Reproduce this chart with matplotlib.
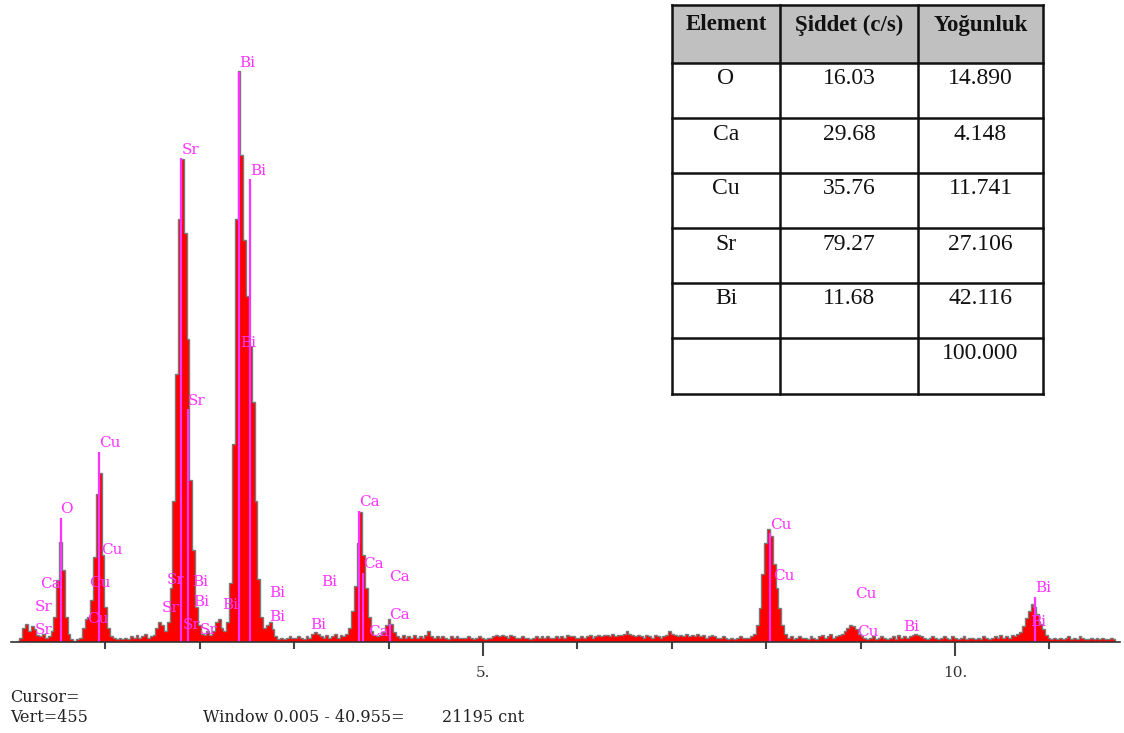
import numpy as np
import matplotlib.pyplot as plt
from matplotlib.patches import Rectangle

# EDS spectrum: counts per 0.03 keV channel, starting at 0 keV
channel_width = 0.03
counts = [
    0, 0, 1, 3, 10, 13, 8, 11, 9, 5,
    4, 6, 3, 4, 8, 18, 44, 71, 51, 18,
    6, 2, 1, 2, 3, 10, 16, 18, 30, 60,
    105, 120, 62, 25, 10, 4, 3, 2, 3, 2,
    3, 2, 4, 3, 5, 3, 4, 6, 3, 4,
    5, 10, 14, 12, 8, 14, 38, 100, 190, 300,
    342, 290, 215, 115, 65, 25, 12, 6, 5, 8,
    5, 8, 14, 16, 10, 8, 14, 42, 140, 300,
    405, 345, 285, 245, 210, 170, 100, 45, 18, 10,
    12, 14, 9, 4, 2, 3, 2, 3, 4, 3,
    3, 4, 3, 2, 4, 3, 6, 7, 6, 4,
    3, 5, 3, 4, 6, 3, 5, 4, 6, 10,
    22, 40, 70, 92, 62, 38, 18, 8, 5, 4,
    5, 7, 12, 16, 13, 7, 4, 3, 5, 3,
    4, 3, 5, 3, 4, 3, 5, 8, 4, 3,
    4, 3, 4, 3, 2, 4, 3, 4, 3, 3,
    3, 4, 3, 2, 3, 4, 3, 2, 3, 3,
    4, 5, 4, 5, 4, 3, 5, 4, 3, 3,
    4, 3, 3, 2, 3, 4, 3, 4, 3, 4,
    3, 3, 4, 3, 4, 3, 5, 4, 4, 3,
    3, 4, 3, 4, 5, 3, 4, 5, 4, 5,
    5, 4, 6, 4, 5, 5, 6, 8, 6, 5,
    4, 5, 4, 3, 5, 4, 3, 5, 4, 3,
    4, 5, 8, 6, 5, 4, 5, 4, 6, 4,
    5, 4, 6, 4, 5, 3, 4, 5, 4, 3,
    3, 4, 3, 2, 3, 2, 3, 4, 3, 3,
    3, 4, 6, 12, 24, 48, 70, 80, 75, 55,
    38, 24, 12, 6, 3, 4, 2, 3, 4, 3,
    3, 2, 4, 3, 2, 4, 5, 3, 4, 6,
    3, 4, 5, 6, 8, 10, 12, 11, 9, 6,
    4, 3, 2, 3, 4, 2, 3, 4, 3, 2,
    3, 4, 2, 5, 3, 4, 3, 4, 5, 6,
    5, 4, 3, 2, 3, 4, 3, 2, 3, 4,
    3, 2, 4, 3, 2, 3, 4, 2, 3, 3,
    2, 3, 2, 4, 3, 2, 3, 4, 3, 5,
    3, 4, 3, 5, 4, 6, 7, 11, 17, 22,
    27, 25, 20, 13, 9, 5, 3, 2, 3, 2,
    3, 2, 3, 4, 2, 3, 2, 4, 3, 2,
    2, 3, 2, 3, 2, 3, 2, 2, 3, 2,
]

# KLM marker labels: element, energy (keV), label height (counts), draw line
marker_labels = ["Ca", "Sr", "Sr", "O", "Cu", "Cu", "Cu", "Cu",
                 "Sr", "Sr", "Sr", "Sr", "Bi", "Bi", "Sr", "Sr", "Bi",
                 "Bi", "Bi", "Bi", "Bi", "Bi", "Bi", "Bi",
                 "Ca", "Ca", "Ca", "Ca", "Ca",
                 "Cu", "Cu", "Cu", "Cu", "Bi", "Bi", "Bi"]
marker_energy = [0.31, 0.25, 0.25, 0.525, 0.93, 0.95, 0.83, 0.81,
                 1.806, 1.875, 1.65, 1.60, 1.92, 1.93, 1.82, 2.00, 2.24,
                 2.42, 2.53, 2.43, 2.74, 2.74, 3.29, 3.17,
                 3.69, 3.73, 4.01, 4.01, 3.78,
                 8.04, 8.07, 8.94, 8.96, 9.45, 10.85, 10.80]
marker_height = [41, 25, 8.5, 94, 141, 65, 42, 16,
                 349, 171, 44, 24, 42.5, 28, 12, 8.5, 26,
                 410, 334, 212, 35, 18, 42.5, 12,
                 99, 55, 46, 19, 7,
                 83, 47, 34, 7, 10.6, 38, 14]
marker_line = [False, False, False, True, True, False, False, False,
               True, True, False, False, False, False, False, False, False,
               True, True, False, False, False, False, False,
               True, True, False, True, False,
               True, False, False, True, False, True, False]

# quantification table
table_header = ["Element", "Şiddet (c/s)", "Yoğunluk"]
elements = ["O", "Ca", "Cu", "Sr", "Bi", ""]
intensity = ["16.03", "29.68", "35.76", "79.27", "11.68", ""]
concentration = ["14.890", "4.148", "11.741", "27.106", "42.116", "100.000"]

serif = ["Liberation Serif", "DejaVu Serif"]
wide_serif = ["DejaVu Serif"]
magenta = "#ff33ff"

fig = plt.figure(figsize=(11.24, 7.33), dpi=100)
ax = fig.add_axes([11 / 1124, 1 - 642 / 733, 1109 / 1124, 642 / 733])

counts = np.array(counts, dtype=float)
edges = np.arange(len(counts) + 1) * channel_width
ax.stairs(counts, edges, fill=True, color="#ff0000", zorder=2)
ax.stairs(counts, edges, color="#7a7a7a", linewidth=1.0, zorder=3)

for lab, e, h, line in zip(marker_labels, marker_energy, marker_height, marker_line):
    if line:
        ax.vlines(e, 0, h - 6, color=magenta, linewidth=1.6, zorder=4)
    ax.text(e, h, lab, color=magenta, fontsize=11, family=wide_serif,
            ha="left", va="center", zorder=5)

ax.set_xlim(0, 1109 / 94.4)
ax.set_ylim(0, 455)
for s in ["left", "right", "top"]:
    ax.spines[s].set_visible(False)
ax.spines["bottom"].set_color("#333333")
ax.spines["bottom"].set_linewidth(1.2)
ax.spines["bottom"].set_zorder(6)
ax.set_yticks([])
ax.set_xticks([5, 10])
ax.set_xticklabels(["5.", "10."], family=wide_serif, fontsize=11, color="#333333")
ax.set_xticks([1, 2, 3, 4, 6, 7, 8, 9, 11], minor=True)
ax.tick_params(axis="x", which="major", length=10, width=1.5, color="#444444", pad=7)
ax.tick_params(axis="x", which="minor", length=5, width=1.5, color="#444444")

fig.text(10 / 1124, 1 - 698 / 733, "Cursor=", family=wide_serif, fontsize=11.5,
         va="center", color="#222222")
fig.text(10 / 1124, 1 - 718 / 733, "Vert=455", family=wide_serif, fontsize=11.5,
         va="center", color="#222222")
fig.text(203 / 1124, 1 - 718 / 733, "Window 0.005 - 40.955=",
         family=wide_serif, fontsize=11.5, va="center", color="#222222")
fig.text(442 / 1124, 1 - 718 / 733, "21195 cnt",
         family=wide_serif, fontsize=11.5, va="center", color="#222222")

# table
tax = fig.add_axes([672 / 1124, 1 - 394 / 733, 371 / 1124, 389 / 733])
tax.set_xlim(0, 371)
tax.set_ylim(389, 0)
tax.axis("off")
col_x = [0, 108, 246, 371]
row_y = [0, 58, 113, 168, 223, 278, 333, 389]
tax.add_patch(Rectangle((0, 0), 371, 58, facecolor="#c0c0c0", edgecolor="none"))
for x in col_x:
    tax.plot([x, x], [0, 389], color="#111111", linewidth=1.8, clip_on=False)
for y in row_y:
    tax.plot([0, 371], [y, y], color="#111111", linewidth=1.8, clip_on=False)
for j, txt in enumerate(table_header):
    cx = (col_x[j] + col_x[j + 1]) / 2
    tax.text(cx, 20, txt, family=serif, fontsize=16.5, fontweight="bold",
             ha="center", va="center", color="#111111")
columns = [elements, intensity, concentration]
for i in range(len(elements)):
    for j, col in enumerate(columns):
        cx = (col_x[j] + col_x[j + 1]) / 2
        tax.text(cx, row_y[i + 1] + 16, col[i], family=serif, fontsize=17,
                 ha="center", va="center", color="#111111")

fig.savefig("out.png", dpi=100)
